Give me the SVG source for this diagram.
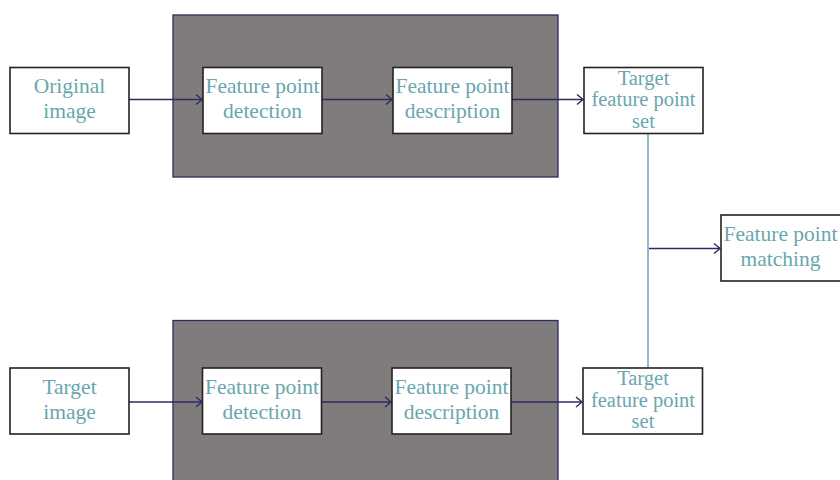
<svg xmlns="http://www.w3.org/2000/svg" width="840" height="480" viewBox="0 0 840 480">
  <defs>
    <marker id="arr" markerWidth="10" markerHeight="12" refX="7" refY="6" orient="auto" markerUnits="userSpaceOnUse">
      <path d="M1,1 L7,6 L1,11" fill="none" stroke="#2b2b66" stroke-width="1.4"/>
    </marker>
    <style>
      .panel { fill: #807c7b; stroke: #2b2b66; stroke-width: 1.3; }
      .box { fill: #ffffff; stroke: #222222; stroke-width: 1.6; }
      .lbl { font-family: "Liberation Serif", "DejaVu Serif", serif; font-size: 21.5px; fill: #6aa6ae; text-anchor: middle; }
      .lbl3 { font-size: 20.5px; }
      .flow { fill: none; stroke: #2b2b66; stroke-width: 1.4; marker-end: url(#arr); }
      .join { fill: none; stroke: #8fbcc4; stroke-width: 2; }
    </style>
  </defs>
  <rect width="840" height="480" fill="#ffffff"/>

  <!-- processing panels -->
  <g id="panel-top"><rect class="panel" x="173" y="15" width="385" height="162"/></g>
  <g id="panel-bottom"><rect class="panel" x="173" y="320.5" width="385" height="170"/></g>

  <!-- connectors -->
  <g id="connectors">
    <line class="flow" x1="129" y1="99.5" x2="202" y2="99.5"/>
    <line class="flow" x1="322" y1="99.5" x2="392" y2="99.5"/>
    <line class="flow" x1="512" y1="99.5" x2="583" y2="99.5"/>
    <line class="flow" x1="129" y1="402" x2="202" y2="402"/>
    <line class="flow" x1="322" y1="402" x2="391" y2="402"/>
    <line class="flow" x1="511" y1="402" x2="582" y2="402"/>
    <line class="join" x1="648" y1="133" x2="648" y2="368"/>
    <line class="flow" x1="649" y1="248.5" x2="720" y2="248.5"/>
  </g>

  <!-- top row -->
  <g id="original-image">
    <rect class="box" x="10" y="67.5" width="119" height="66"/>
    <text class="lbl" x="69.5" y="93">Original</text>
    <text class="lbl" x="69.5" y="118">image</text>
  </g>
  <g id="detection-top">
    <rect class="box" x="203" y="67.5" width="119" height="66"/>
    <text class="lbl" x="262.5" y="93">Feature point</text>
    <text class="lbl" x="262.5" y="118">detection</text>
  </g>
  <g id="description-top">
    <rect class="box" x="393" y="67.5" width="119" height="66"/>
    <text class="lbl" x="452.5" y="93">Feature point</text>
    <text class="lbl" x="452.5" y="118">description</text>
  </g>
  <g id="point-set-top">
    <rect class="box" x="584" y="67.5" width="119" height="66"/>
    <text class="lbl lbl3" x="643.5" y="84.5">Target</text>
    <text class="lbl lbl3" x="643.5" y="106">feature point</text>
    <text class="lbl lbl3" x="643.5" y="127.5">set</text>
  </g>

  <!-- matching -->
  <g id="matching">
    <rect class="box" x="721" y="215" width="122" height="66"/>
    <text class="lbl" x="780.5" y="241">Feature point</text>
    <text class="lbl" x="780.5" y="266">matching</text>
  </g>

  <!-- bottom row -->
  <g id="target-image">
    <rect class="box" x="10" y="368" width="119" height="66"/>
    <text class="lbl" x="69.5" y="393.5">Target</text>
    <text class="lbl" x="69.5" y="418.5">image</text>
  </g>
  <g id="detection-bottom">
    <rect class="box" x="202.5" y="368" width="119" height="66"/>
    <text class="lbl" x="262" y="393.5">Feature point</text>
    <text class="lbl" x="262" y="418.5">detection</text>
  </g>
  <g id="description-bottom">
    <rect class="box" x="392" y="368" width="119" height="66"/>
    <text class="lbl" x="451.5" y="393.5">Feature point</text>
    <text class="lbl" x="451.5" y="418.5">description</text>
  </g>
  <g id="point-set-bottom">
    <rect class="box" x="583" y="368" width="119.5" height="66"/>
    <text class="lbl lbl3" x="643" y="385">Target</text>
    <text class="lbl lbl3" x="643" y="406.5">feature point</text>
    <text class="lbl lbl3" x="643" y="428">set</text>
  </g>
</svg>
